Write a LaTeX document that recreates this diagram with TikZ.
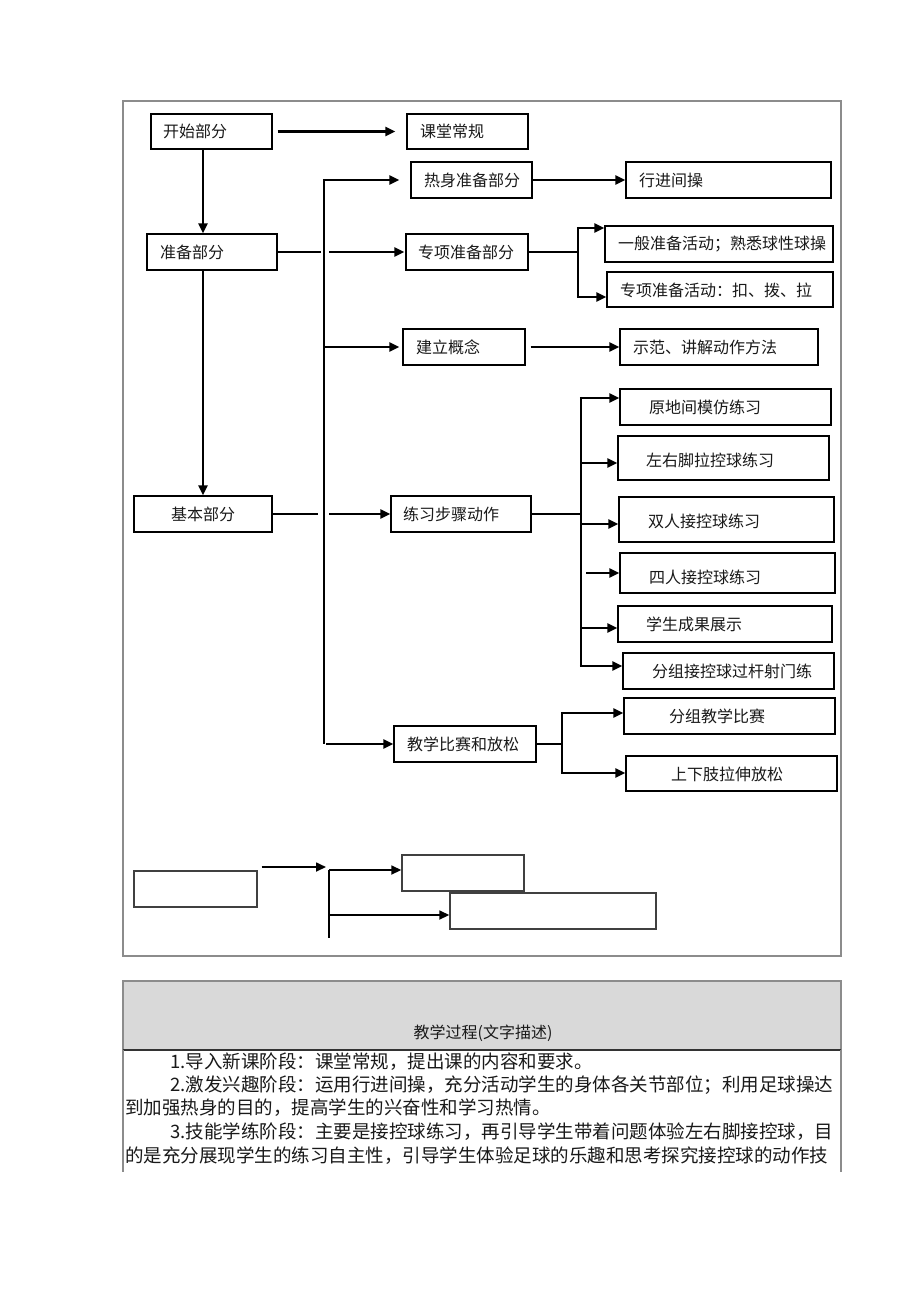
\documentclass[tikz,border=0pt]{standalone}
\usepackage{fontspec}
\newfontfamily\cjk{Noto Sans CJK SC}
\usetikzlibrary{arrows.meta}
\definecolor{hdr}{HTML}{D9D9D9}
\definecolor{frm}{HTML}{8C8C8C}
\definecolor{dkb}{HTML}{404040}
\newcommand\mkbox[6][box]{\node[#1, minimum width={(#5-#3)*1pt}, minimum height={(#6-#4)*1pt}] (#2) at ({(#3+#5)/2},{(#4+#6)/2}) {};}
\begin{document}
\begin{tikzpicture}[x=1pt,y=-1pt,
  box/.style={draw=black, line width=1.3pt, inner sep=0pt, rectangle},
  gbox/.style={draw=dkb, line width=1.4pt, inner sep=0pt, rectangle},
  txt/.style={font=\cjk\fontsize{16}{18}\selectfont, inner sep=0pt, text=black!90},
  body/.style={font=\cjk\fontsize{18.5}{20}\selectfont, inner sep=0pt, anchor=west, text=black!90},
  ln/.style={line width=2.5pt},
  thin/.style={line width=1.7pt},
  arr/.style={line width=2.5pt, -{Triangle[length=10pt,width=9pt]}},
  tarr/.style={line width=1.7pt, -{Triangle[length=10pt,width=9pt]}},
]
\useasboundingbox[fill=white] (0,0) rectangle (920,1302);
% outer frame
\draw[frm, line width=1.2pt] (123,101) rectangle (841,956);

% boxes
\mkbox{start}{151}{114}{272}{149}
\mkbox{ketang}{407}{114}{528}{149}
\mkbox{reshen}{411}{162}{532}{198}
\mkbox{xingjin}{626}{162}{831}{198}
\mkbox{zhunbei}{147}{234}{277}{270}
\mkbox{zhuanxiang}{406}{234}{528}{270}
\mkbox{yiban}{605}{226}{833}{262}
\mkbox{zxact}{607}{272}{833}{307}
\mkbox{jianli}{403}{329}{525}{365}
\mkbox{shifan}{620}{329}{818}{365}
\mkbox{jiben}{134}{496}{272}{532}
\mkbox{lianxi}{391}{496}{531}{532}
\mkbox{b1}{620}{389}{831}{425}
\mkbox{b2}{618}{436}{829}{480}
\mkbox{b3}{619}{497}{834}{542}
\mkbox{b4}{620}{553}{835}{593}
\mkbox{b5}{618}{606}{832}{642}
\mkbox{b6}{623}{653}{834}{689}
\mkbox{bisai}{394}{726}{536}{762}
\mkbox{fenzu}{624}{698}{835}{734}
\mkbox{shangxia}{626}{756}{837}{791}
\mkbox[gbox]{e0}{134}{871}{257}{907}
\mkbox[gbox]{e1}{402}{855}{524}{891}
\mkbox[gbox]{e2}{450}{893}{656}{929}

% texts
\node[txt] (t-start) at (195,131.5) {开始部分};
\node[txt] (t-ketang) at (452,131.5) {课堂常规};
\node[txt] (t-reshen) at (472,180) {热身准备部分};
\node[txt] (t-xingjin) at (671,180) {行进间操};
\node[txt] (t-zhunbei) at (192,252) {准备部分};
\node[txt] (t-zhuanxiang) at (466,252) {专项准备部分};
\node[txt] (t-yiban) at (722,244) {一般准备活动；熟悉球性球操};
\node[txt] (t-zxact) at (716,290) {专项准备活动：扣、拨、拉};
\node[txt] (t-jianli) at (448,347) {建立概念};
\node[txt] (t-shifan) at (705,347) {示范、讲解动作方法};
\node[txt] (t-jiben) at (203,514) {基本部分};
\node[txt] (t-lianxi) at (451,514) {练习步骤动作};
\node[txt] (t-b1) at (705,407) {原地间模仿练习};
\node[txt] (t-b2) at (710,460) {左右脚拉控球练习};
\node[txt] (t-b3) at (704,521) {双人接控球练习};
\node[txt] (t-b4) at (705,577) {四人接控球练习};
\node[txt] (t-b5) at (694,624) {学生成果展示};
\node[txt] (t-b6) at (732,671) {分组接控球过杆射门练};
\node[txt] (t-bisai) at (463,744) {教学比赛和放松};
\node[txt] (t-fenzu) at (717,716) {分组教学比赛};
\node[txt] (t-shangxia) at (727,774) {上下肢拉伸放松};

% coordinates
\coordinate (busT) at (324,180);
\coordinate (busB) at (324,744);
\coordinate (s1) at (578,252);
\coordinate (s1t) at (578,228);
\coordinate (s1b) at (578,297);
\coordinate (s2) at (581,514);
\coordinate (s2t) at (581,398);
\coordinate (s2b) at (581,666);
\coordinate (s3) at (562,744);
\coordinate (s3t) at (562,713);
\coordinate (s3b) at (562,773);
\coordinate (c1) at (326,867);
\coordinate (s4t) at (329,870);
\coordinate (s4b) at (329,938);
\coordinate (s4m) at (329,915);

% connectors
\draw[arr] ([xshift=5pt]start.east) -- ([xshift=-11pt]ketang.west);
\draw[arr] (start.south -| jiben.north) -- (zhunbei.north -| jiben.north);
\draw[arr] (zhunbei.south -| jiben.north) -- (jiben.north);
\draw[ln] (busT) -- (busB);
\draw[arr] ([xshift=-1.25pt]busT) -- ([xshift=-11pt]reshen.west);
\draw[arr] (reshen.east) -- (xingjin.west);
\draw[ln] (zhunbei.east) -- ([xshift=-3pt]zhunbei.east -| busT);
\draw[arr] ([xshift=5pt]zhunbei.east -| busT) -- ([xshift=-1pt]zhuanxiang.west);
\draw[ln] (zhuanxiang.east) -- (s1);
\draw[ln] ([yshift=1.25pt]s1t) -- ([yshift=-1.25pt]s1b);
\draw[arr] ([xshift=-1.25pt]s1t) -- (yiban.west |- s1t);
\draw[arr] ([xshift=-1.25pt]s1b) -- (zxact.west |- s1b);
\draw[arr] (busT |- jianli.west) -- ([xshift=-3pt]jianli.west);
\draw[arr] ([xshift=5pt]jianli.east) -- (shifan.west);
\draw[ln] (jiben.east) -- ([xshift=-6pt]jiben.east -| busT);
\draw[arr] ([xshift=5pt]jiben.east -| busT) -- (lianxi.west);
\draw[ln] (lianxi.east) -- (s2);
\draw[ln] ([yshift=1.25pt]s2t) -- ([yshift=-1.25pt]s2b);
\draw[arr] ([xshift=-1.25pt]s2t) -- (b1.west |- s2t);
\draw[arr] (s2 |- 0,463) -- (b2.west |- 0,463);
\draw[arr] (s2 |- 0,524) -- (b3.west |- 0,524);
\draw[arr] ([xshift=5pt]s2 |- b4.west) -- (b4.west);
\draw[arr] (s2 |- 0,628) -- (b5.west |- 0,628);
\draw[arr] ([xshift=-1.25pt]s2b) -- (b6.west |- s2b);
\draw[arr] ([xshift=2pt]busB) -- (bisai.west);
\draw[ln] (bisai.east) -- (s3);
\draw[ln] ([yshift=1.25pt]s3t) -- ([yshift=-1.25pt]s3b);
\draw[arr] ([xshift=-1.25pt]s3t) -- (fenzu.west |- s3t);
\draw[arr] ([xshift=-1.25pt]s3b) -- (shangxia.west |- s3b);
% bottom empty diagram
\draw[tarr] ([xshift=4pt]e0.east |- c1) -- (c1);
\draw[thin] (s4t) -- (s4b);
\draw[tarr] (s4t) -- (e1.west |- s4t);
\draw[tarr] (s4m) -- (e2.west |- s4m);

% table
\filldraw[fill=hdr, draw=frm, line width=1.2pt] (123,981) rectangle (841,1050);
\draw[black!80, line width=1.3pt] (123,1050) -- (841,1050);
\draw[frm, line width=1.2pt] (123,1050) -- (123,1172) (841,1050) -- (841,1172);
\node[txt] (hdrtext) at (483,1033) {教学过程(文字描述)};
\node[body] (l1) at (170,1062) {1.导入新课阶段：课堂常规，提出课的内容和要求。};
\node[body] (l2) at (170,1085) {2.激发兴趣阶段：运用行进间操，充分活动学生的身体各关节部位；利用足球操达};
\node[body] (l3) at (125,1108) {到加强热身的目的，提高学生的兴奋性和学习热情。};
\node[body] (l4) at (170,1132) {3.技能学练阶段：主要是接控球练习，再引导学生带着问题体验左右脚接控球，目};
\node[body] (l5) at (125,1156) {的是充分展现学生的练习自主性，引导学生体验足球的乐趣和思考探究接控球的动作技};
\end{tikzpicture}
\end{document}
